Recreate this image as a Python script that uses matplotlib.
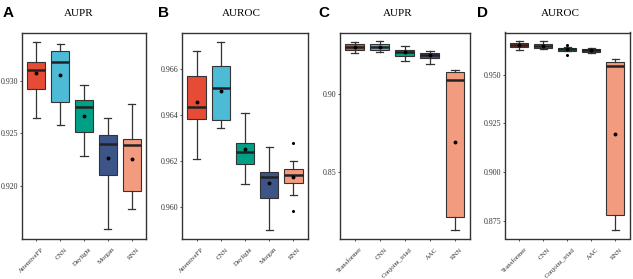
import matplotlib
matplotlib.use("Agg")
import matplotlib.pyplot as plt
from matplotlib.transforms import ScaledTranslation

# --- data ---
drug_models = ["AttentiveFP", "CNN", "Daylight", "Morgan", "RNN"]
prot_models = ["Transformer", "CNN", "Conjoint_triad", "AAC", "RNN"]

# each box: whislo, q1, med, q3, whishi, mean
a_boxes = [
    [0.92646, 0.92921, 0.93104, 0.93180, 0.93373, 0.93073],
    [0.92582, 0.92797, 0.93184, 0.93282, 0.93354, 0.93060],
    [0.92285, 0.92513, 0.92750, 0.92816, 0.92962, 0.92668],
    [0.91589, 0.92101, 0.92402, 0.92481, 0.92642, 0.92263],
    [0.91782, 0.91949, 0.92392, 0.92446, 0.92782, 0.92253],
]
a_fliers = [[], [], [], [], []]

b_boxes = [
    [0.96210, 0.96384, 0.96435, 0.96572, 0.96678, 0.96455],
    [0.96342, 0.96378, 0.96520, 0.96612, 0.96719, 0.96507],
    [0.96102, 0.96186, 0.96241, 0.96277, 0.96409, 0.96251],
    [0.95903, 0.96039, 0.96131, 0.96151, 0.96262, 0.96106],
    [0.96052, 0.96106, 0.96142, 0.96168, 0.96201, 0.96133],
]
b_fliers = [[], [], [], [], [0.96280, 0.95984]]

c_boxes = [
    [0.92620, 0.92850, 0.93022, 0.93195, 0.93361, 0.93050],
    [0.92722, 0.92850, 0.93040, 0.93214, 0.93387, 0.93050],
    [0.92128, 0.92428, 0.92703, 0.92850, 0.93086, 0.92700],
    [0.91917, 0.92320, 0.92492, 0.92620, 0.92767, 0.92500],
    [0.81319, 0.82148, 0.90936, 0.91447, 0.91574, 0.86957],
]
c_fliers = [[], [], [], [], []]

d_boxes = [
    [0.96245, 0.96398, 0.96515, 0.96602, 0.96719, 0.96500],
    [0.96311, 0.96362, 0.96480, 0.96566, 0.96719, 0.96480],
    [0.96190, 0.96209, 0.96296, 0.96378, 0.96400, 0.96290],
    [0.96107, 0.96173, 0.96245, 0.96311, 0.96362, 0.96240],
    [0.87041, 0.87806, 0.95425, 0.95629, 0.95816, 0.91939],
]
d_fliers = [[], [], [0.96515, 0.96020], [], []]

colors = ["#E64B35", "#4DBBD5", "#00A087", "#3C5488", "#F39B7F"]

plt.rcParams["font.family"] = ["Liberation Serif", "DejaVu Serif"]

fig = plt.figure(figsize=(6.33, 2.79), dpi=100)
W, H = 633.0, 279.0


def make_ax(x0, x1, y0=32.5, y1=238.5):
    return fig.add_axes([x0 / W, 1 - y1 / H, (x1 - x0) / W, (y1 - y0) / H])


def draw_panel(ax, names, boxes, fliers, ylim, ticks, fmt):
    stats = []
    for name, b, fl in zip(names, boxes, fliers):
        stats.append(dict(label=name, whislo=b[0], q1=b[1], med=b[2], q3=b[3],
                          whishi=b[4], mean=b[5], fliers=fl))
    bp = ax.bxp(stats, positions=range(1, 6), widths=0.75, capwidths=0.3,
                patch_artist=True, showmeans=True,
                boxprops=dict(edgecolor="#333333", linewidth=0.8),
                whiskerprops=dict(color="#333333", linewidth=0.9),
                capprops=dict(color="#333333", linewidth=0.9),
                medianprops=dict(color="#222222", linewidth=1.8),
                meanprops=dict(marker="o", markersize=1.8, markerfacecolor="black",
                               markeredgecolor="black"),
                flierprops=dict(marker="o", markersize=1.2, markerfacecolor="black",
                                markeredgecolor="black"))
    for patch, c in zip(bp["boxes"], colors):
        patch.set_facecolor(c)
    ax.set_xlim(0.4, 5.6)
    ax.set_ylim(ylim)
    ax.set_yticks(ticks)
    ax.set_yticklabels([fmt.format(t) for t in ticks])
    ax.set_xticks(range(1, 6))
    ax.set_xticklabels(names, rotation=45, ha="right", va="top",
                       rotation_mode="anchor")
    ax.tick_params(axis="both", length=1.6, width=0.6,
                   color="#333333", labelcolor="#333333", pad=0.8)
    ax.tick_params(axis="y", labelsize=5.7)
    ax.tick_params(axis="x", labelsize=4.9)
    shift = ScaledTranslation(5 / 100, -5 / 100, fig.dpi_scale_trans)
    for lab in ax.get_xticklabels():
        lab.set_transform(lab.get_transform() + shift)
    for s in ax.spines.values():
        s.set_color("#333333")
        s.set_linewidth(1.0)


ax_a = make_ax(22, 146)
draw_panel(ax_a, drug_models, a_boxes, a_fliers, (0.9150, 0.9346),
           [0.920, 0.925, 0.930], "{:.3f}")
ax_b = make_ax(182, 308)
draw_panel(ax_b, drug_models, b_boxes, b_fliers, (0.95864, 0.96759),
           [0.960, 0.962, 0.964, 0.966], "{:.3f}")
ax_c = make_ax(339.5, 470)
draw_panel(ax_c, prot_models, c_boxes, c_fliers, (0.80745, 0.93957),
           [0.85, 0.90], "{:.2f}")
ax_d = make_ax(505, 629.5)
draw_panel(ax_d, prot_models, d_boxes, d_fliers, (0.8660, 0.9716),
           [0.875, 0.900, 0.925, 0.950], "{:.3f}")

# titles and panel letters
for x, t in [(79, "AUPR"), (241.5, "AUROC"), (398, "AUPR"), (560, "AUROC")]:
    fig.text(x / W, 1 - 13 / H, t, ha="center", va="center", fontsize=8)
for x, l in [(3, "A"), (158, "B"), (318, "C"), (477, "D")]:
    fig.text(x / W, 1 - 13 / H, l, ha="left", va="center", fontsize=11,
             fontweight="bold", family=["Liberation Sans", "DejaVu Sans"])

fig.savefig("out.png", dpi=100)
